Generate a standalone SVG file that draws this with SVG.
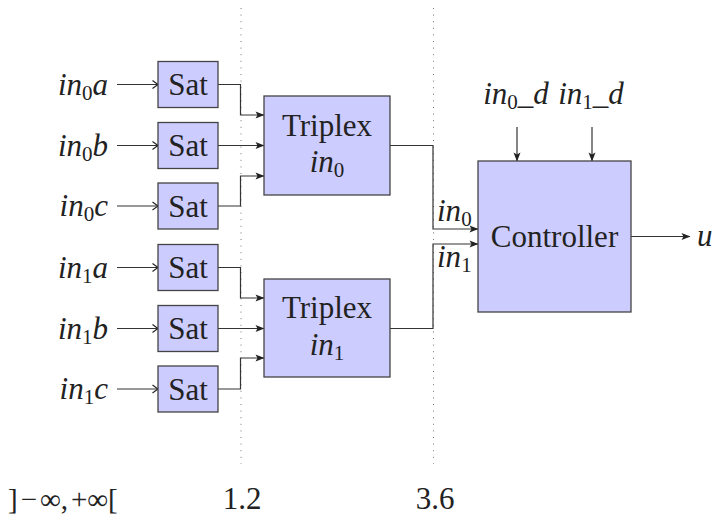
<svg xmlns="http://www.w3.org/2000/svg" width="715" height="517" viewBox="0 0 715 517">
<style>
.box{fill:#ccccff;stroke:#444;stroke-width:1.3}
.t{font-family:"Liberation Serif","Times New Roman",serif;font-size:31px;fill:#222}
.m{font-family:"Liberation Serif","Times New Roman",serif;font-size:31px;font-style:italic;fill:#222}
.sub{font-size:21px;font-style:normal}
.c{fill:none;stroke:#333;stroke-width:1.2}
.dot{fill:none;stroke:#777;stroke-width:1;stroke-dasharray:1 5.6}
</style>
<defs>
<marker id="ah" viewBox="-10 -5 11 10" refX="0" refY="0" markerWidth="11" markerHeight="10" markerUnits="userSpaceOnUse" orient="auto">
<path d="M0.5,0 L-8.5,-3.5 L-6.5,0 L-8.5,3.5 Z" fill="#222"/>
</marker>
<marker id="to" viewBox="-7 -5 8 10" refX="0" refY="0" markerWidth="8" markerHeight="10" markerUnits="userSpaceOnUse" orient="auto">
<path d="M-5.5,-4 Q-1.5,-1 0,0 Q-1.5,1 -5.5,4" fill="none" stroke="#222" stroke-width="1.1"/>
</marker>
</defs>
<rect width="715" height="517" fill="#fff"/>
<g id="guides">
<line class="dot" x1="241" y1="8" x2="241" y2="464"/>
<line class="dot" x1="433.5" y1="8" x2="433.5" y2="464"/>
<text class="t" x="8" y="509" style="font-size:29px">]<tspan dx="3">−</tspan><tspan dx="3">∞,</tspan><tspan dx="3">+∞[</tspan></text>
<text class="t" x="242" y="509" text-anchor="middle">1.2</text>
<text class="t" x="435" y="509" text-anchor="middle">3.6</text>
</g>
<g id="connectors">
<path class="c" d="M117,84.5 H158" marker-end="url(#to)"/>
<path class="c" d="M117,145.5 H158" marker-end="url(#to)"/>
<path class="c" d="M117,206 H158" marker-end="url(#to)"/>
<path class="c" d="M117,267.5 H158" marker-end="url(#to)"/>
<path class="c" d="M117,328.5 H158" marker-end="url(#to)"/>
<path class="c" d="M117,389 H158" marker-end="url(#to)"/>
<path class="c" d="M218,84.5 H240.5 V115 H264" marker-end="url(#ah)"/>
<path class="c" d="M218,145.5 H264" marker-end="url(#ah)"/>
<path class="c" d="M218,206 H240.5 V176 H264" marker-end="url(#ah)"/>
<path class="c" d="M218,267.5 H240.5 V298 H264" marker-end="url(#ah)"/>
<path class="c" d="M218,328.5 H264" marker-end="url(#ah)"/>
<path class="c" d="M218,389 H240.5 V358 H264" marker-end="url(#ah)"/>
<path class="c" d="M390,145.5 H433 V229 H478" marker-end="url(#ah)"/>
<path class="c" d="M390,328.5 H433 V244 H478" marker-end="url(#ah)"/>
<path class="c" d="M517,127 V161" marker-end="url(#ah)"/>
<path class="c" d="M592,127 V161" marker-end="url(#ah)"/>
<path class="c" d="M631,236.5 H690" marker-end="url(#ah)"/>
<text class="m" x="437" y="221">in<tspan class="sub" dy="5">0</tspan></text>
<text class="m" x="437" y="267">in<tspan class="sub" dy="5">1</tspan></text>
</g>
<g id="labels">
<text class="m" x="108" y="94.5" text-anchor="end">in<tspan class="sub" dy="5">0</tspan><tspan dy="-5">a</tspan></text>
<text class="m" x="108" y="155.5" text-anchor="end">in<tspan class="sub" dy="5">0</tspan><tspan dy="-5">b</tspan></text>
<text class="m" x="108" y="216" text-anchor="end">in<tspan class="sub" dy="5">0</tspan><tspan dy="-5">c</tspan></text>
<text class="m" x="108" y="277.5" text-anchor="end">in<tspan class="sub" dy="5">1</tspan><tspan dy="-5">a</tspan></text>
<text class="m" x="108" y="338.5" text-anchor="end">in<tspan class="sub" dy="5">1</tspan><tspan dy="-5">b</tspan></text>
<text class="m" x="108" y="399" text-anchor="end">in<tspan class="sub" dy="5">1</tspan><tspan dy="-5">c</tspan></text>
<text class="m" x="516" y="104" text-anchor="middle">in<tspan class="sub" dy="5">0</tspan><tspan dy="-5">_d</tspan></text>
<text class="m" x="591" y="104" text-anchor="middle">in<tspan class="sub" dy="5">1</tspan><tspan dy="-5">_d</tspan></text>
<text class="m" x="697" y="246">u</text>
</g>
<g id="sat0a"><rect class="box" x="158" y="61.5" width="60" height="46"/><text class="t" x="188" y="95" text-anchor="middle">Sat</text></g>
<g id="sat0b"><rect class="box" x="158" y="122.5" width="60" height="46"/><text class="t" x="188" y="156" text-anchor="middle">Sat</text></g>
<g id="sat0c"><rect class="box" x="158" y="183" width="60" height="46"/><text class="t" x="188" y="216.5" text-anchor="middle">Sat</text></g>
<g id="sat1a"><rect class="box" x="158" y="244.5" width="60" height="46"/><text class="t" x="188" y="278" text-anchor="middle">Sat</text></g>
<g id="sat1b"><rect class="box" x="158" y="305.5" width="60" height="46"/><text class="t" x="188" y="339" text-anchor="middle">Sat</text></g>
<g id="sat1c"><rect class="box" x="158" y="366" width="60" height="46"/><text class="t" x="188" y="399.5" text-anchor="middle">Sat</text></g>
<g id="triplex0"><rect class="box" x="264" y="96" width="126" height="99"/><text class="t" x="327" y="136" text-anchor="middle">Triplex</text><text class="m" x="327" y="172" text-anchor="middle">in<tspan class="sub" dy="5">0</tspan></text></g>
<g id="triplex1"><rect class="box" x="264" y="279" width="126" height="98"/><text class="t" x="327" y="318" text-anchor="middle">Triplex</text><text class="m" x="327" y="355" text-anchor="middle">in<tspan class="sub" dy="5">1</tspan></text></g>
<g id="controller"><rect class="box" x="478" y="161" width="153" height="151"/><text class="t" x="554.5" y="247" text-anchor="middle">Controller</text></g>
</svg>
